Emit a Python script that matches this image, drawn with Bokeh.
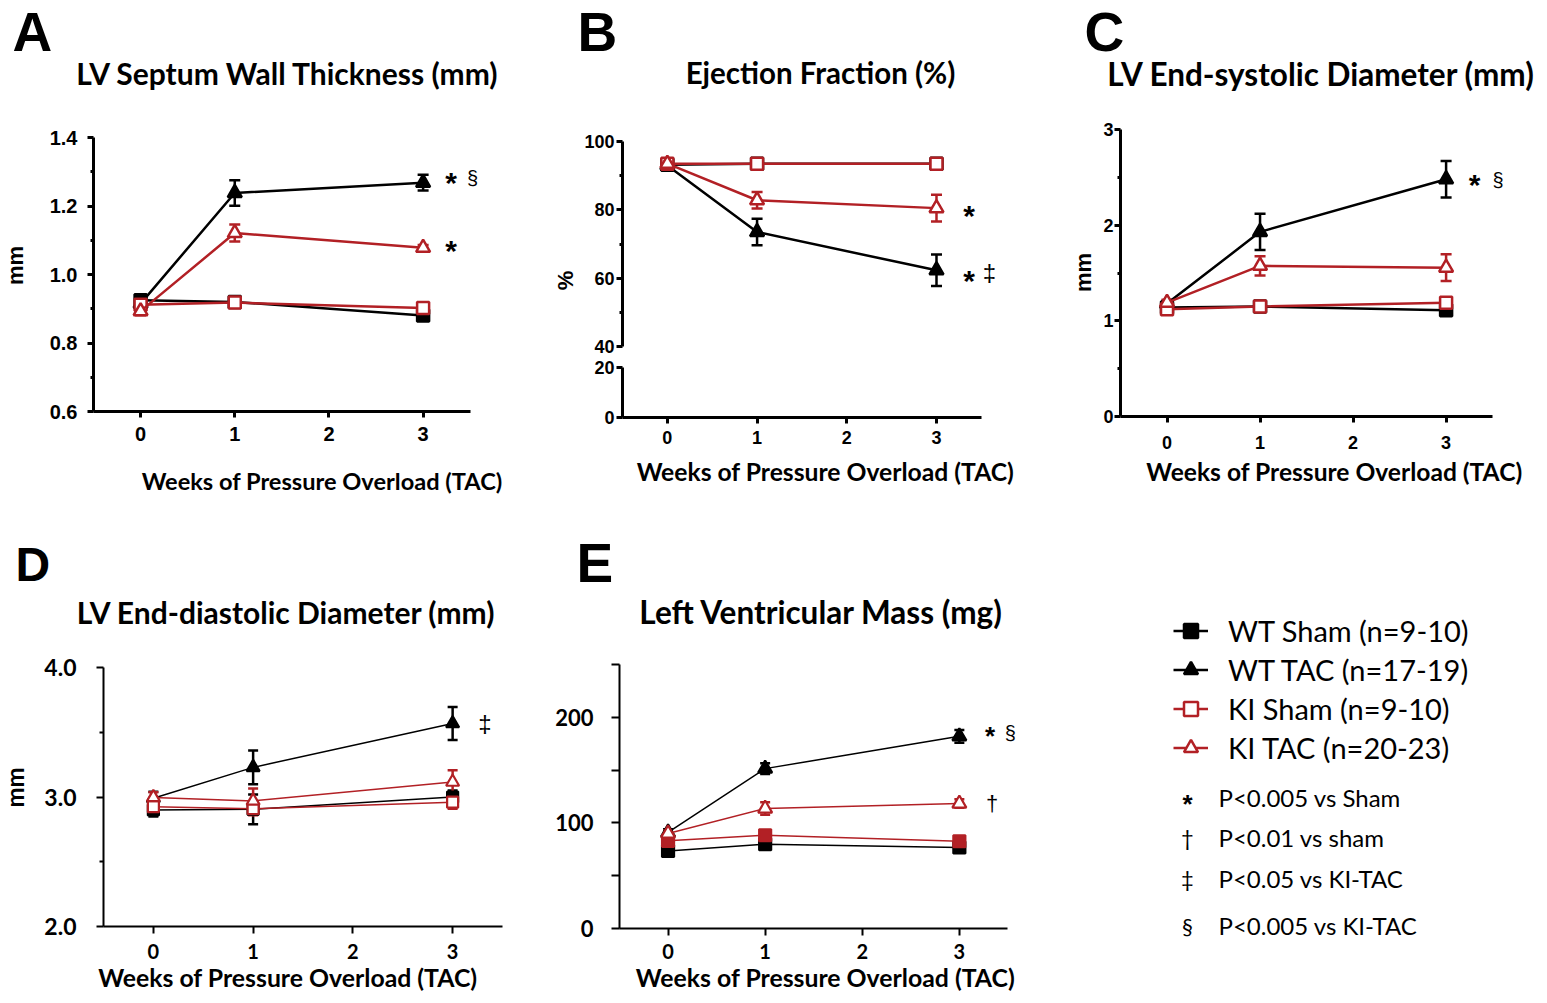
from bokeh.plotting import figure
from bokeh.models import (ColumnDataSource, Whisker, TeeHead, FixedTicker, Label,
                          Legend, LegendItem, Range1d, PrintfTickFormatter, LinearAxis)
from bokeh.layouts import row, column
from bokeh.embed import file_html
from bokeh.resources import INLINE

# ---------------- data ----------------
weeks = [0, 1, 3]
x_ticks = [0, 1, 2, 3]
group_labels = ["WT Sham (n=9-10)", "WT TAC (n=17-19)", "KI Sham (n=9-10)", "KI TAC (n=20-23)"]

# A  LV septum wall thickness (mm)
a_wt_sham = [0.925, 0.920, 0.880]
a_wt_sham_err = [0.015, 0.010, 0.008]
a_wt_tac = [0.915, 1.238, 1.268]
a_wt_tac_err = [0.012, 0.037, 0.023]
a_ki_sham = [0.912, 0.918, 0.902]
a_ki_sham_err = [0.012, 0.012, 0.010]
a_ki_tac = [0.893, 1.121, 1.078]
a_ki_tac_err = [0.012, 0.025, 0.008]

# B  ejection fraction (%)
b_wt_sham = [93.2, 93.5, 93.5]
b_wt_sham_err = [0.6, 0.6, 0.6]
b_wt_tac = [93.0, 73.5, 62.3]
b_wt_tac_err = [0.8, 3.9, 4.6]
b_ki_sham = [93.5, 93.5, 93.5]
b_ki_sham_err = [0.6, 0.6, 0.6]
b_ki_tac = [93.5, 82.8, 80.5]
b_ki_tac_err = [0.6, 2.4, 3.9]

# C  LV end-systolic diameter (mm)
c_wt_sham = [1.14, 1.15, 1.11]
c_wt_sham_err = [0.03, 0.03, 0.03]
c_wt_tac = [1.18, 1.93, 2.48]
c_wt_tac_err = [0.03, 0.19, 0.19]
c_ki_sham = [1.12, 1.15, 1.19]
c_ki_sham_err = [0.03, 0.03, 0.04]
c_ki_tac = [1.19, 1.575, 1.556]
c_ki_tac_err = [0.03, 0.10, 0.14]

# D  LV end-diastolic diameter (mm)
d_wt_sham = [2.90, 2.905, 3.00]
d_wt_sham_err = [0.05, 0.115, 0.05]
d_wt_tac = [2.99, 3.229, 3.568]
d_wt_tac_err = [0.05, 0.13, 0.127]
d_ki_sham = [2.925, 2.91, 2.96]
d_ki_sham_err = [0.04, 0.05, 0.05]
d_ki_tac = [2.997, 2.97, 3.116]
d_ki_tac_err = [0.04, 0.095, 0.09]

# E  LV mass (mg)
e_wt_sham = [73.5, 79.8, 76.7]
e_wt_sham_err = [2.0, 2.0, 2.0]
e_wt_tac = [91.0, 151.4, 182.0]
e_wt_tac_err = [3.0, 5.0, 6.0]
e_ki_sham = [83.0, 88.3, 82.6]
e_ki_sham_err = [2.0, 2.0, 2.0]
e_ki_tac = [90.0, 113.6, 118.3]
e_ki_tac_err = [3.0, 6.0, 4.0]

titles = ["LV Septum Wall Thickness (mm)", "Ejection Fraction (%)", "LV End-systolic Diameter (mm)",
          "LV End-diastolic Diameter (mm)", "Left Ventricular Mass (mg)"]
letters = ["A", "B", "C", "D", "E"]
x_title = "Weeks of Pressure Overload (TAC)"
sig_symbols = ["*", "\u2020", "\u2021", "\u00a7"]
sig_texts = ["P<0.005 vs Sham", "P<0.01 vs sham", "P<0.05 vs KI-TAC", "P<0.005 vs KI-TAC"]

RED = "#B22025"
CAL = "Lato"
ARI = "Liberation Sans"
NBSP = "\u00a0"


def base_fig(w, h, l, r, t, b, xr, yr, xaxis=True, yaxis=True):
    p = figure(width=w, height=h, min_border_left=l, min_border_right=r,
               min_border_top=t, min_border_bottom=b,
               x_range=Range1d(*xr), y_range=Range1d(*yr),
               x_axis_location="below" if xaxis else None,
               y_axis_location="left" if yaxis else None,
               output_backend="svg", toolbar_location=None)
    p.grid.visible = False
    p.outline_line_color = None
    p.background_fill_color = "white"
    p.border_fill_color = "white"
    return p


def text_fig(w, h):
    return base_fig(w, h, 0, 0, 0, 0, (0, 1), (0, 1), xaxis=False, yaxis=False)


def style_axis(ax, lw, font, size, standoff, tick_out, minor_out):
    ax.axis_line_width = lw
    ax.axis_line_color = "black"
    ax.major_tick_line_width = lw
    ax.major_tick_line_color = "black"
    ax.major_tick_out = tick_out
    ax.major_tick_in = 0
    ax.minor_tick_line_width = lw
    ax.minor_tick_line_color = "black"
    ax.minor_tick_out = minor_out
    ax.minor_tick_in = 0
    ax.major_label_text_font = font
    ax.major_label_text_font_size = f"{size}px"
    ax.major_label_text_font_style = "bold"
    ax.major_label_text_color = "black"
    ax.major_label_standoff = standoff


def title_axis(p, text, size, standoff):
    # a bare extra axis below the x axis that only carries the x title
    ax = LinearAxis(ticker=FixedTicker(ticks=[]), axis_label=text,
                    axis_line_color=None, major_tick_line_color=None,
                    minor_tick_line_color=None, major_tick_out=0, minor_tick_out=0,
                    major_tick_in=0, minor_tick_in=0, major_label_text_font_size="0px",
                    major_label_standoff=0,
                    axis_label_text_font=CAL, axis_label_text_font_size=f"{size}px",
                    axis_label_text_font_style="bold", axis_label_text_color="black",
                    axis_label_standoff=standoff)
    p.add_layout(ax, "below")


def txt(p, x, y, text, size, font=CAL, style="bold", align="left", angle=0.0):
    # x from left edge, y (visual centre) from bottom edge of a text-only figure
    p.add_layout(Label(x=x, y=y, x_units="screen", y_units="screen", text=text,
                       text_font=font, text_font_size=f"{size}px", text_font_style=style,
                       text_align=align, text_baseline="middle", angle=angle,
                       text_color="black"))


def draw_series(p, ys, errs, color, marker, fill, lw, msize, mlw, ew, cap):
    src = ColumnDataSource(dict(x=weeks, y=ys,
                                upper=[v + e for v, e in zip(ys, errs)],
                                lower=[v - e for v, e in zip(ys, errs)]))
    p.add_layout(Whisker(source=src, base="x", upper="upper", lower="lower",
                         line_color=color, line_width=ew,
                         upper_head=TeeHead(size=cap, line_color=color, line_width=ew),
                         lower_head=TeeHead(size=cap, line_color=color, line_width=ew)))
    p.line("x", "y", source=src, line_color=color, line_width=lw)
    p.scatter("x", "y", source=src, marker=marker, size=msize, fill_color=fill,
              line_color=color, line_width=mlw)


def draw_panel(p, data, lw, msize, mlw, ew, cap, ki_sham_fill="white"):
    (ws, wse), (wt, wte), (ks, kse), (kt, kte) = data
    draw_series(p, ws, wse, "black", "square", "black", lw, msize, mlw, ew, cap)
    draw_series(p, wt, wte, "black", "triangle", "black", lw, msize + 2, mlw, ew, cap)
    draw_series(p, ks, kse, RED, "square", ki_sham_fill, lw, msize, mlw, ew, cap)
    draw_series(p, kt, kte, RED, "triangle", "white", lw, msize + 2, mlw, ew, cap)


def mark(p, yv, text, dx, dy, size, font=ARI, style="bold"):
    p.add_layout(Label(x=weeks[-1], y=yv, x_offset=dx, y_offset=dy, text=text,
                       text_font=font, text_font_size=f"{size}px", text_font_style=style,
                       text_align="center", text_baseline="middle", text_color="black"))


# ================= TOP ROW (0..508): header 110, middle 348, footer 50 =================
# ---- Panel A (x 0..550) ----
hA = text_fig(550, 110)
txt(hA, 12, 79, letters[0], 55, font=ARI)
txt(hA, 287.5, 38, titles[0], 30, align="center")
sA = text_fig(40, 348)
txt(sA, 15, 193, "mm", 22, font=ARI, align="center", angle=1.5708)
pA = base_fig(510, 348, 53, 69, 27, 47, (-0.5, 3.62), (0.6, 1.4))
pA.xaxis.ticker = FixedTicker(ticks=x_ticks)
pA.xaxis.bounds = (-0.5, 3.5)
pA.yaxis.ticker = FixedTicker(ticks=[0.6, 0.8, 1.0, 1.2, 1.4], minor_ticks=[0.7, 0.9, 1.1, 1.3])
pA.yaxis.formatter = PrintfTickFormatter(format="%.1f")
style_axis(pA.xaxis[0], 3, ARI, 20, 9, 6, 3)
style_axis(pA.yaxis[0], 3, ARI, 20, 10, 6, 3)
draw_panel(pA, [(a_wt_sham, a_wt_sham_err), (a_wt_tac, a_wt_tac_err),
                (a_ki_sham, a_ki_sham_err), (a_ki_tac, a_ki_tac_err)], 2.5, 12, 2.5, 2.5, 11)
mark(pA, a_wt_tac[-1], "*", 28, 0, 30)
mark(pA, a_wt_tac[-1], "\u00a7", 49.5, 5, 20, style="normal")
mark(pA, a_ki_tac[-1], "*", 28, -2.5, 30)
fA = text_fig(550, 50)
txt(fA, 321.7, 28, x_title, 23.6, align="center")
blockA = column(hA, row(column(sA), column(pA)), fA)

# ---- Panel B (x 550..1065), broken axis ----
hB = text_fig(515, 110)
txt(hB, 27, 79, letters[1], 55, font=ARI)
txt(hB, 270, 38, titles[1], 29.5, align="center")
sB = text_fig(30, 348)
txt(sB, 15, 178, "%", 22, font=ARI, align="center", angle=1.5708)
pBt = base_fig(485, 247, 42, 68, 31, 11, (-0.5, 3.68), (40, 100), xaxis=False)
pBt.yaxis.ticker = FixedTicker(ticks=[40, 60, 80, 100], minor_ticks=[50, 70, 90])
style_axis(pBt.yaxis[0], 3, ARI, 18, 2, 6, 3)
draw_panel(pBt, [(b_wt_sham, b_wt_sham_err), (b_wt_tac, b_wt_tac_err),
                 (b_ki_sham, b_ki_sham_err), (b_ki_tac, b_ki_tac_err)], 2.5, 12, 2.5, 2.5, 11)
mark(pBt, b_ki_tac[-1], "*", 32.5, -7.6, 30)
mark(pBt, b_wt_tac[-1], "*", 32.5, -9.9, 30)
mark(pBt, b_wt_tac[-1], "\u2021", 53, -2.5, 24, style="normal")
pBb = base_fig(485, 101, 42, 68, 10, 41, (-0.5, 3.68), (0, 20))
pBb.xaxis.ticker = FixedTicker(ticks=x_ticks)
pBb.xaxis.bounds = (-0.5, 3.5)
pBb.yaxis.ticker = FixedTicker(ticks=[0, 20], minor_ticks=[])
style_axis(pBb.xaxis[0], 3, ARI, 18, 7, 6, 3)
style_axis(pBb.yaxis[0], 3, ARI, 18, 2, 6, 3)
pBb.scatter(x=[], y=[])
fB = text_fig(515, 50)
txt(fB, 275, 37.5, x_title, 24.7, align="center")
blockB = column(hB, row(column(sB), column(pBt, pBb)), fB)

# ---- Panel C (x 1065..1545) ----
hC = text_fig(480, 110)
txt(hC, 19, 79, letters[2], 55, font=ARI)
txt(hC, 256, 36.7, titles[2], 31.5, align="center")
sC = text_fig(30, 348)
txt(sC, 18, 186, "mm", 22, font=ARI, align="center", angle=1.5708)
pC = base_fig(450, 348, 25, 38, 19, 42, (-0.5, 3.66), (0, 3))
pC.xaxis.ticker = FixedTicker(ticks=x_ticks)
pC.xaxis.bounds = (-0.5, 3.5)
pC.yaxis.ticker = FixedTicker(ticks=[0, 1, 2, 3], minor_ticks=[0.5, 1.5, 2.5])
style_axis(pC.xaxis[0], 3, ARI, 18, 13, 6, 3)
style_axis(pC.yaxis[0], 3, ARI, 18, 1, 6, 3)
draw_panel(pC, [(c_wt_sham, c_wt_sham_err), (c_wt_tac, c_wt_tac_err),
                (c_ki_sham, c_ki_sham_err), (c_ki_tac, c_ki_tac_err)], 2.5, 12, 2.5, 2.5, 11)
mark(pC, c_wt_tac[-1], "*", 28.6, -5.3, 30)
mark(pC, c_wt_tac[-1], "\u00a7", 52, -1, 20, style="normal")
fC = text_fig(480, 50)
txt(fC, 269, 37.5, x_title, 24.6, align="center")
blockC = column(hC, row(column(sC), column(pC)), fC)

# ================= BOTTOM ROW (508..1001): header 132, plots 361 =================
# ---- Panel D (x 0..540) ----
hD = text_fig(540, 132)
txt(hD, 15, 76, letters[3], 48, font=ARI)
txt(hD, 286, 28.3, titles[3], 30, align="center")
sD = text_fig(35, 361)
txt(sD, 14, 214, "mm", 24, align="center", angle=1.5708)
pD = base_fig(505, 361, 68, 38, 27, 75, (-0.5, 3.5), (2.0, 4.0))
pD.xaxis.ticker = FixedTicker(ticks=x_ticks)
pD.yaxis.ticker = FixedTicker(ticks=[2.0, 3.0, 4.0], minor_ticks=[2.5, 3.5])
pD.yaxis.formatter = PrintfTickFormatter(format="%.1f")
style_axis(pD.xaxis[0], 2, CAL, 20, 10, 7, 4)
style_axis(pD.yaxis[0], 2, CAL, 23, 20, 7, 4)
title_axis(pD, x_title + NBSP * 5, 24.8, 1)
draw_panel(pD, [(d_wt_sham, d_wt_sham_err), (d_wt_tac, d_wt_tac_err),
                (d_ki_sham, d_ki_sham_err), (d_ki_tac, d_ki_tac_err)], 1.5, 11, 2.2, 2.5, 10)
mark(pD, d_wt_tac[-1], "\u2021", 32.3, 0, 24, style="normal")
blockD = column(hD, row(column(sD), column(pD)))

# ---- Panel E (x 540..1065) ----
hE = text_fig(525, 132)
txt(hE, 36, 78, letters[4], 55, font=ARI)
txt(hE, 281, 28.3, titles[4], 31.5, align="center")
pE = base_fig(525, 361, 79, 34, 24, 73, (-0.5, 3.743), (0, 250))
pE.xaxis.ticker = FixedTicker(ticks=x_ticks)
pE.xaxis.bounds = (-0.5, 3.5)
pE.yaxis.ticker = FixedTicker(ticks=[0, 100, 200], minor_ticks=[50, 150, 250])
style_axis(pE.xaxis[0], 2, CAL, 20, 8, 7, 4)
style_axis(pE.yaxis[0], 2, CAL, 22, 18, 8, 8)
title_axis(pE, x_title, 24.8, 1)
draw_panel(pE, [(e_wt_sham, e_wt_sham_err), (e_wt_tac, e_wt_tac_err),
                (e_ki_sham, e_ki_sham_err), (e_ki_tac, e_ki_tac_err)], 1.5, 12, 2.2, 2.5, 10,
           ki_sham_fill=RED)
mark(pE, e_wt_tac[-1], "*", 30.7, 0, 26)
mark(pE, e_wt_tac[-1], "\u00a7", 51, 3, 20, style="normal")
mark(pE, e_ki_tac[-1], "\u2020", 32.7, 0, 22, style="normal")
blockE = column(hE, column(pE))

# ---- Legend block (x 1065..1545, y 508..1001) ----
pL = text_fig(480, 493)
leg_styles = [("black", "square", "black"), ("black", "triangle", "black"),
              (RED, "square", "white"), (RED, "triangle", "white")]
items = []
for lab, (col, mk, fill) in zip(group_labels, leg_styles):
    src = ColumnDataSource(dict(x=[float("nan")], y=[float("nan")]))
    rl = pL.line("x", "y", source=src, line_color=col, line_width=2.5)
    rm = pL.scatter("x", "y", source=src, marker=mk, size=12, fill_color=fill,
                    line_color=col, line_width=2.5)
    items.append(LegendItem(label=lab, renderers=[rl, rm]))
leg = Legend(items=items, location=(108, 234), padding=0, margin=0, spacing=0,
             glyph_width=35, glyph_height=39, label_height=39, label_standoff=20,
             border_line_color=None, background_fill_alpha=0,
             label_text_font=CAL, label_text_font_size="29px", label_text_color="black")
pL.add_layout(leg)
sig_y = [797, 837, 878, 925]
for sym, t, yy in zip(sig_symbols, sig_texts, sig_y):
    yb = 1001 - yy
    if sym == "*":
        txt(pL, 122, yb - 6, sym, 26, font=ARI, align="center")
    else:
        txt(pL, 122, yb, sym, 22, style="normal", align="center")
    txt(pL, 153, yb, t, 24, style="normal")
blockL = column(pL)

layout = column(row(blockA, blockB, blockC), row(blockD, blockE, blockL))
open("out.html", "w").write(file_html(layout, INLINE))
